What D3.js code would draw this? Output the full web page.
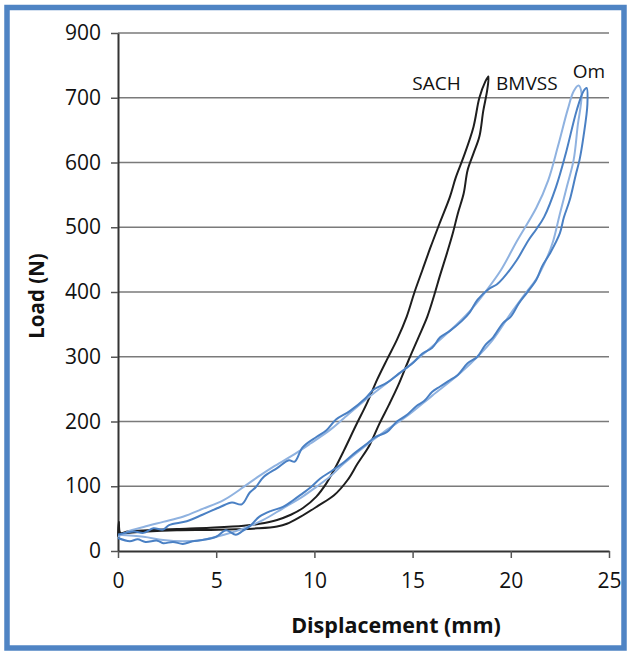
<!DOCTYPE html>
<html>
<head>
<meta charset="utf-8">
<script src="https://cdn.jsdelivr.net/npm/d3@7/dist/d3.min.js"></script>
<style>
  html, body { margin: 0; padding: 0; background: #fff; }
  svg { display: block; font-family: "Open Sans", "Noto Sans", sans-serif; }
</style>
</head>
<body>
<div id="chart"></div>
<script>
// displacement (mm), load (N) - each series is one loading/unloading loop
var sach = [
  [0, 22], [0.04, 45], [0.12, 28], [0.5, 30], [1.5, 32], [3, 34], [4.7, 36], [6.4, 39],
  [7.2, 42], [8.1, 48], [8.8, 56], [9.4, 66], [10.1, 84], [10.6, 104], [11.0, 125],
  [11.5, 155], [12.1, 193], [12.7, 230], [13.2, 265], [13.7, 296], [14.2, 326],
  [14.7, 362], [15.1, 400], [15.5, 434], [15.9, 468], [16.4, 508], [16.9, 547],
  [17.2, 577], [17.6, 609], [18.1, 655], [18.4, 700], [18.7, 725], [18.86, 733],
  [18.8, 712], [18.6, 680], [18.4, 640], [18.1, 614], [17.8, 588], [17.6, 552],
  [17.3, 521], [17.05, 491], [16.75, 460], [16.4, 426], [16.1, 395], [15.75, 362],
  [15.3, 330], [14.8, 295], [14.3, 258], [13.8, 226], [13.3, 196], [12.8, 163],
  [12.2, 135], [11.7, 110], [11.0, 86], [10.2, 70], [9.3, 53], [8.6, 42], [8.1, 38],
  [7.1, 35], [6.0, 33.5], [4.7, 32.5], [3, 32], [1.5, 30], [0.3, 27], [0, 25]
];

var bmvss = [
  [0, 25], [0.8, 30], [1.3, 28], [1.8, 35], [2.3, 33], [2.6, 40], [3.5, 46], [4.3, 56],
  [5.2, 68], [5.8, 75], [6.3, 72], [6.7, 90], [7.0, 98], [7.4, 114], [8.1, 128],
  [8.7, 140], [9.0, 138], [9.4, 160], [10.1, 176], [10.6, 186], [11.1, 203],
  [11.8, 216], [12.6, 236], [13.0, 249], [13.7, 260], [14.3, 274], [15.0, 290],
  [15.5, 305], [16.0, 314], [16.4, 330], [16.9, 340], [17.5, 355], [17.9, 368],
  [18.3, 388], [18.9, 405], [19.3, 412], [19.6, 421], [20.3, 449], [20.9, 480],
  [21.3, 497], [21.7, 516], [22.3, 562], [22.8, 614], [23.35, 680], [23.7, 710],
  [23.86, 715], [23.9, 690], [23.7, 640], [23.5, 604], [23.3, 580], [23.0, 542],
  [22.7, 515], [22.5, 491], [22.0, 460], [21.6, 440], [21.3, 419], [20.8, 398],
  [20.4, 382], [20.0, 362], [19.6, 352], [19.1, 330], [18.7, 318], [18.3, 300],
  [17.8, 290], [17.3, 272], [16.8, 262], [16.4, 254], [16.0, 246], [15.6, 232],
  [15.2, 224], [14.7, 210], [14.2, 200], [13.7, 184], [13.1, 176], [12.6, 164],
  [12.0, 150], [11.5, 137], [10.9, 124], [10.3, 112], [9.8, 98], [9.4, 89],
  [8.9, 78], [8.4, 68], [7.8, 62], [7.2, 53], [6.7, 38], [6.3, 30], [6.0, 25],
  [5.5, 32], [5.0, 22], [4.3, 17], [3.8, 15], [3.3, 11], [2.8, 14], [2.3, 12],
  [2.0, 16], [1.4, 14], [1.0, 18], [0.6, 15], [0, 20]
];

var om = [
  [0, 22], [0.5, 30], [1.3, 37], [2.3, 45], [3.3, 53], [4.3, 65], [5.4, 79], [6.4, 99],
  [7.1, 114], [7.9, 130], [8.8, 146], [9.8, 166], [10.8, 187], [11.5, 205],
  [12.7, 236], [14.4, 276], [15.7, 308], [16.9, 340], [17.9, 370], [18.6, 396],
  [19.5, 434], [20.3, 478], [21.3, 530], [21.9, 572], [22.4, 625], [22.9, 682],
  [23.2, 710], [23.45, 719], [23.6, 707], [23.4, 655], [23.2, 604], [22.85, 562],
  [22.5, 521], [22.15, 478], [21.8, 450], [21.3, 420], [20.8, 400], [20.0, 367],
  [19.1, 327], [18.4, 303], [17.4, 274], [16.0, 240], [14.7, 208], [13.5, 183],
  [12.5, 160], [11.5, 135], [10.8, 115], [10.1, 99], [9.4, 84], [8.4, 66],
  [7.4, 48], [6.4, 35], [5.4, 25], [4.3, 17], [3.3, 15], [2.3, 17], [1.3, 22], [0, 25]
];

var seriesNames = ["SACH", "BMVSS", "Om"];
var xTicks = [0, 5, 10, 15, 20, 25];
var yTicks = [0, 100, 200, 300, 400, 500, 600, 700, 800];
var yTickLabels = ["0", "100", "200", "300", "400", "500", "600", "700", "900"];

var W = 628, H = 653;
var margin = {top: 33, right: 19, bottom: 102, left: 118};

var x = d3.scaleLinear().domain([0, 25]).range([margin.left, W - margin.right]);
var y = d3.scaleLinear().domain([0, 800]).range([H - margin.bottom, margin.top]);

var svg = d3.select("#chart").append("svg")
    .attr("width", W)
    .attr("height", H);

// outer frame
svg.append("rect")
    .attr("x", 7).attr("y", 7.5)
    .attr("width", W - 11).attr("height", H - 12.5)
    .attr("fill", "none")
    .attr("stroke", "#4f84c4")
    .attr("stroke-width", 5.5);

// horizontal grid
svg.append("g")
  .selectAll("line")
  .data(yTicks.slice(1))
  .enter().append("line")
    .attr("x1", x(0)).attr("x2", x(25))
    .attr("y1", function(d) { return y(d); })
    .attr("y2", function(d) { return y(d); })
    .attr("stroke", "#7a7a7a")
    .attr("stroke-width", 1.4);

var yAxis = d3.axisLeft(y)
    .tickValues(yTicks)
    .tickFormat(function(d, i) { return yTickLabels[i]; })
    .tickSize(7).tickSizeOuter(0).tickPadding(10);

var xAxis = d3.axisBottom(x)
    .tickValues(xTicks)
    .tickSize(7).tickSizeOuter(0).tickPadding(15);

var gy = svg.append("g")
    .attr("transform", "translate(" + margin.left + ",0)")
    .call(yAxis);

var gx = svg.append("g")
    .attr("transform", "translate(0," + y(0) + ")")
    .call(xAxis);

[gx, gy].forEach(function(g) {
  g.select(".domain").attr("stroke", "#333").attr("stroke-width", 2);
  g.selectAll(".tick line").attr("stroke", "#555").attr("stroke-width", 1.5);
  g.selectAll(".tick text")
    .attr("fill", "#111")
    .style("font-size", "21px")
    .style("font-family", "'Open Sans', sans-serif");
});

var line = d3.line()
    .x(function(d) { return x(d[0]); })
    .y(function(d) { return y(d[1]); })
    .curve(d3.curveCatmullRom.alpha(0.5));

var series = [
  {name: seriesNames[0], values: sach, color: "#1e1e1e"},
  {name: seriesNames[2], values: om, color: "#8fb2e0"},
  {name: seriesNames[1], values: bmvss, color: "#4a80c4"}
];

svg.append("g")
  .selectAll("path")
  .data(series)
  .enter().append("path")
    .attr("d", function(d) { return line(d.values); })
    .attr("fill", "none")
    .attr("stroke", function(d) { return d.color; })
    .attr("stroke-width", 2)
    .attr("stroke-linejoin", "round");

// series labels
var labels = [
  {text: seriesNames[0], x: 17.45, y: 712, anchor: "end"},
  {text: seriesNames[1], x: 19.25, y: 712, anchor: "start"},
  {text: seriesNames[2], x: 23.15, y: 731, anchor: "start"}
];
svg.append("g")
  .selectAll("text")
  .data(labels)
  .enter().append("text")
    .attr("x", function(d) { return x(d.x); })
    .attr("y", function(d) { return y(d.y); })
    .attr("text-anchor", function(d) { return d.anchor; })
    .attr("fill", "#111")
    .style("font-size", "19px")
    .text(function(d) { return d.text; });

// axis titles
svg.append("text")
    .attr("x", 396).attr("y", 633)
    .attr("text-anchor", "middle")
    .attr("fill", "#111")
    .style("font-size", "21.5px")
    .style("font-weight", "bold")
    .text("Displacement (mm)");

svg.append("text")
    .attr("transform", "translate(44,296) rotate(-90)")
    .attr("text-anchor", "middle")
    .attr("fill", "#111")
    .style("font-size", "20.5px")
    .style("font-weight", "bold")
    .text("Load (N)");
</script>
</body>
</html>
